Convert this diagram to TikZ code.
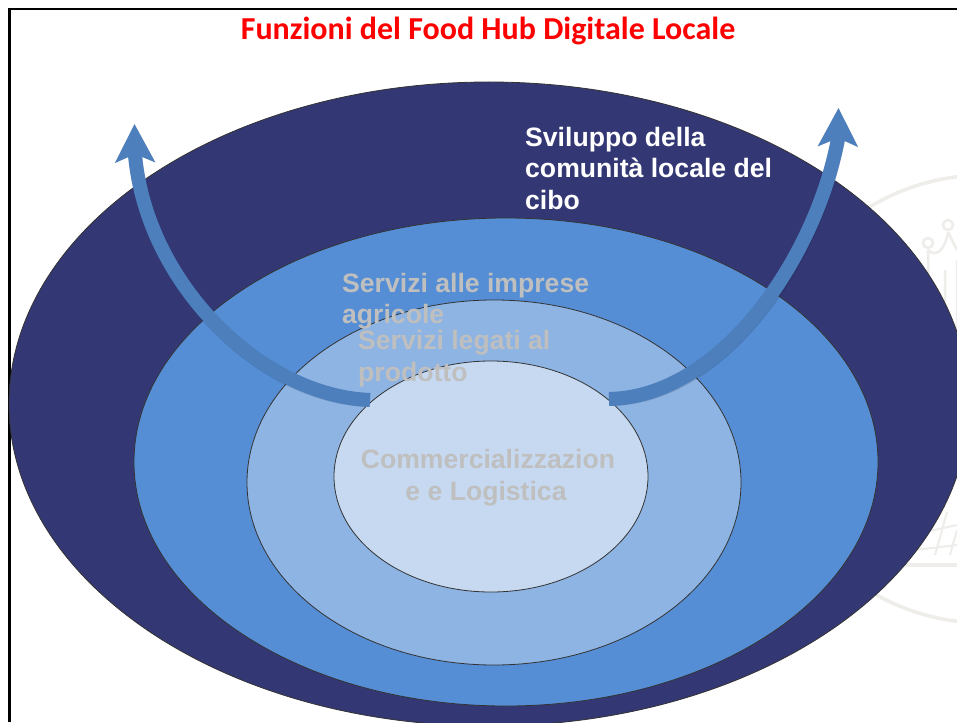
\documentclass[tikz,border=0pt]{standalone}
\usepackage{fontspec}
\setmainfont{Liberation Sans}
\newfontfamily\titlefont{Carlito}
\usetikzlibrary{arrows.meta,shapes.geometric}
\definecolor{ringA}{HTML}{333875}
\definecolor{ringB}{HTML}{558ED5}
\definecolor{ringC}{HTML}{8EB4E3}
\definecolor{ringD}{HTML}{C6D9F1}
\definecolor{arrowblue}{HTML}{4C7FBC}
\definecolor{labelgrey}{HTML}{BFBFBF}
\definecolor{seal}{HTML}{EFEDEA}
\tikzset{
  ring/.style={ellipse,draw=black!80,line width=0.8pt,inner sep=0pt},
  ringlabel/.style={font=\bfseries\fontsize{26.6}{31.6}\selectfont,align=left,anchor=base west,inner sep=0pt,text=labelgrey},
  growth/.style={line width=14pt,arrowblue,-{Stealth[length=38pt,width=39pt,inset=8pt]}},
  growthshadow/.style={line width=14pt,black,opacity=0.12,-{Stealth[length=38pt,width=39pt,inset=8pt]}},
  sealline/.style={seal,line width=3.5pt}
}
\begin{document}
\begin{tikzpicture}[x=1pt,y=-1pt]
\useasboundingbox (0,0) rectangle (957,722);
\clip (0,0) rectangle (957,722);
\fill[white] (0,0) rectangle (957,722);
% watermark
\draw[sealline] (985,399) circle (224);
\draw[sealline] (905,565) -- (957,565);
\draw[seal,line width=2pt] (935,555) -- (947,512) (950,555) -- (957,530) (925,532) -- (957,525) (915,550) -- (957,545);
\draw[seal,line width=2.5pt] (928,250) -- (930,345) (928,250) .. controls (936,258) and (945,250) .. (948,232)
  (948,232) -- (957,250) (945,270) -- (945,345) (957,260) -- (957,345);
\draw[seal,line width=2.5pt] (928,243) circle (5) (948,225) circle (5);
% frame
\draw[black,line width=2.5pt] (9.5,722) -- (9.5,9) -- (957,9);
% rings
\node[ring,fill=ringA,minimum width=960pt,minimum height=644pt] (outer) at (489,404) {};
\node[ring,fill=ringB,minimum width=744pt,minimum height=488pt] (second) at (506,462) {};
\node[ring,fill=ringC,minimum width=494pt,minimum height=365pt] (third) at (494,482.5) {};
\node[ring,fill=ringD,minimum width=314pt,minimum height=231pt] (core) at (491,476.5) {};
% arrows
\coordinate (ltail) at (370,400);
\coordinate (lneck) at (135,155);
\coordinate (ltip) at (134.5,124);
\coordinate (rtail) at (609,399);
\coordinate (rneck) at (838,139);
\coordinate (rtip) at (838.5,108);
\begin{scope}[shift={(1,2)}]
\draw[growthshadow] (ltail) .. controls (262,396) and (147,285) .. (lneck) -- (ltip);
\draw[growthshadow] (rtail) .. controls (720,397) and (815,260) .. (rneck) -- (rtip);
\end{scope}
\draw[growth] (ltail) .. controls (262,396) and (147,285) .. (lneck) -- (ltip);
\draw[growth] (rtail) .. controls (720,397) and (815,260) .. (rneck) -- (rtip);
% labels
\node[font=\titlefont\bfseries\fontsize{32}{36}\selectfont,text=red,inner sep=0pt] (title) at (488,31) {Funzioni del Food Hub Digitale Locale};
\node[ringlabel,text=white] (lA) at (525,146.5) {Sviluppo della};
\node[ringlabel,text=white] (lA2) at (525,178) {comunità locale del};
\node[ringlabel,text=white] (lA3) at (525,209.5) {cibo};
\node[ringlabel] (lB) at (342,292) {Servizi alle imprese};
\node[ringlabel] (lB2) at (342,323) {agricole};
\node[ringlabel] (lC) at (358,349) {Servizi legati al};
\node[ringlabel] (lC2) at (358,381) {prodotto};
\node[ringlabel,anchor=base] (lD) at (488,468) {Commercializzazion};
\node[ringlabel,anchor=base] (lD2) at (486,500) {e e Logistica};
\end{tikzpicture}
\end{document}
